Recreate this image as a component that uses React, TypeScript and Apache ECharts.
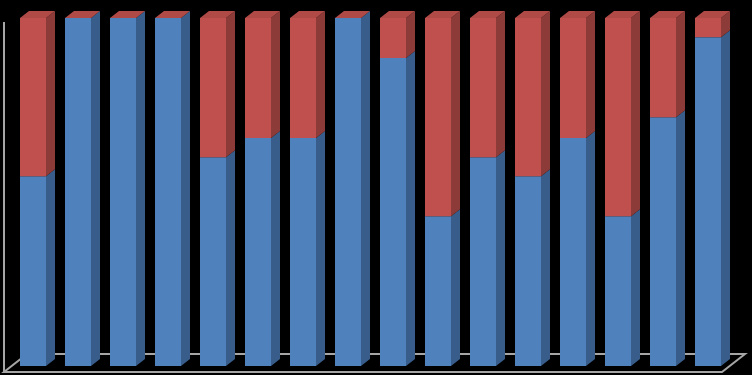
import React, { useEffect, useRef } from "react";
import * as echarts from "echarts";

const categories = ["1", "2", "3", "4", "5", "6", "7", "8", "9", "10", "11", "12", "13", "14", "15", "16"];
const blueValues = [54.5, 100, 100, 100, 60, 65.5, 65.5, 100, 88.5, 43, 60, 54.5, 65.5, 43, 71.5, 94.5];
const redValues = [45.5, 0, 0, 0, 40, 34.5, 34.5, 0, 11.5, 57, 40, 45.5, 34.5, 57, 28.5, 5.5];

const BLUE_FRONT = "#4f81bd";
const BLUE_SIDE = "#385d8a";
const RED_FRONT = "#c0504d";
const RED_SIDE = "#8c3b38";
const RED_TOP = "#b04a46";
const LINE = "#a6a6a6";

export default function App() {
  const ref = useRef<HTMLDivElement>(null);
  useEffect(() => {
    document.body.style.margin = "0";
    document.body.style.background = "#000";
    const chart = echarts.init(ref.current!, null, { renderer: "svg" });
    const renderItem = (params: any, api: any) => {
      const i = api.value(0);
      const blue = api.value(1);
      const red = api.value(2);
      const base = api.coord([i, 0]);
      const mid = api.coord([i, blue]);
      const top = api.coord([i, blue + red]);
      const band = api.size([1, 0])[0];
      const w = (band * 26) / 45;
      const dx = (band * 9) / 45;
      const dy = -7;
      const x0 = base[0] - w / 2;
      const x1 = x0 + w;
      const children: any[] = [];
      if (blue > 0) {
        children.push({
          type: "rect",
          shape: { x: x0, y: mid[1], width: w, height: base[1] - mid[1] },
          style: { fill: BLUE_FRONT },
        });
        children.push({
          type: "polygon",
          shape: { points: [[x1, base[1]], [x1 + dx, base[1] + dy], [x1 + dx, mid[1] + dy], [x1, mid[1]]] },
          style: { fill: BLUE_SIDE },
        });
      }
      if (red > 0) {
        children.push({
          type: "rect",
          shape: { x: x0, y: top[1], width: w, height: mid[1] - top[1] },
          style: { fill: RED_FRONT },
        });
        children.push({
          type: "polygon",
          shape: { points: [[x1, mid[1]], [x1 + dx, mid[1] + dy], [x1 + dx, top[1] + dy], [x1, top[1]]] },
          style: { fill: RED_SIDE },
        });
      }
      children.push({
        type: "polygon",
        shape: { points: [[x0, top[1]], [x0 + dx, top[1] + dy], [x1 + dx, top[1] + dy], [x1, top[1]]] },
        style: { fill: RED_TOP },
      });
      return { type: "group", children };
    };
    chart.setOption({
      animation: false,
      backgroundColor: "#000",
      grid: { left: 10.5, top: 18, width: 720, height: 348 },
      xAxis: { type: "category", data: categories, show: false },
      yAxis: { type: "value", min: 0, max: 100, show: false },
      graphic: [
        {
          type: "polyline",
          z: 0,
          shape: { points: [[4, 22], [4, 372]] },
          style: { stroke: LINE, lineWidth: 2, fill: "none" },
        },
        {
          type: "polygon",
          z: 0,
          shape: { points: [[4, 372], [722, 372], [745, 354], [27, 354]] },
          style: { stroke: LINE, lineWidth: 2, fill: "none" },
        },
      ],
      series: [
        {
          type: "custom",
          z: 5,
          renderItem,
          encode: { x: 0, y: [1, 2] },
          data: categories.map((c, i) => [i, blueValues[i], redValues[i]]),
        },
      ],
    });
    return () => chart.dispose();
  }, []);
  return <div ref={ref} style={{ position: "absolute", left: 0, top: 0, width: 752, height: 375 }} />;
}
